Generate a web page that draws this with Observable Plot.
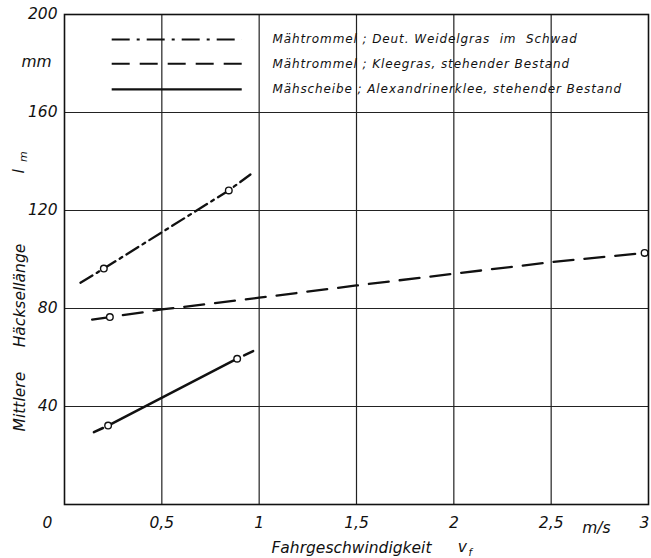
<!DOCTYPE html>
<html><head><meta charset="utf-8">
<script src="https://cdn.jsdelivr.net/npm/d3@7"></script>
<script src="https://cdn.jsdelivr.net/npm/@observablehq/plot@0.6"></script>
<style>body{margin:0;background:#fff}</style>
</head><body><div id="chart"></div>
<script>
// ---- data ----
const xTicks = [0.5, 1, 1.5, 2, 2.5, 3];
const xTickLabels = ["0,5", "1", "1,5", "2", "2,5", "3"];
const yTicks = [40, 80, 120, 160, 200];
const yTickLabels = ["40", "80", "120", "160", "200"];

const seriesNames = [
  "Mähtrommel ; Deut. Weidelgras  im  Schwad",
  "Mähtrommel ; Kleegras, stehender Bestand",
  "Mähscheibe ; Alexandrinerklee, stehender Bestand"
];

const weidelX = [0.082, 0.202, 0.844, 0.955];
const weidelY = [90.5, 96.3, 128.2, 134.7];
const weidelPtX = [0.202, 0.844];
const weidelPtY = [96.3, 128.2];

const kleeX = [0.142, 0.233, 0.5, 1, 1.5, 2, 2.5, 2.98];
const kleeY = [75.5, 76.5, 79.6, 84.4, 89.4, 94.2, 98.9, 102.7];
const kleePtX = [0.233, 2.98];
const kleePtY = [76.5, 102.7];

const alexX = [0.151, 0.224, 0.887, 0.969];
const alexY = [29.5, 32.2, 59.5, 62.6];
const alexPtX = [0.224, 0.887];
const alexPtY = [32.2, 59.5];

// ---- layout (annotation positions in data units) ----
const legendX1 = 0.245, legendX2 = 0.913, legendTextX = 1.068;
const legendY = [189.8, 179.9, 169.4];
const dashes = ["14,5,3,5", "20,11", null];
const legendDashes = ["18,7,3,7", "18,10", null];

const FONT = "'DejaVu Sans', sans-serif";
const pts = (xs, ys) => xs.map((x, i) => ({x, y: ys[i]}));

const weidel = pts(weidelX, weidelY);
const klee = pts(kleeX, kleeY);
const alex = pts(alexX, alexY);
const alexMain = alex.slice(1, 3);
const alexStart = alex.slice(0, 2);
const alexEnd = [alex[3], alex[2]];
const circles = [...pts(weidelPtX, weidelPtY), ...pts(kleePtX, kleePtY), ...pts(alexPtX, alexPtY)];

const txt = {fontFamily: FONT, fontStyle: "italic", fill: "#111"};
const nLast = xTicks.length - 1;

const chart = Plot.plot({
  width: 651, height: 558,
  marginLeft: 64, marginRight: 3, marginTop: 14, marginBottom: 54,
  x: {domain: [0, 3], axis: null},
  y: {domain: [0, 200], axis: null},
  style: {fontFamily: FONT, background: "#fff"},
  marks: [
    Plot.ruleX(xTicks.slice(0, -1), {y1: 0, y2: 200, stroke: "#222", strokeWidth: 1.2}),
    Plot.ruleY(yTicks.slice(0, -1), {x1: 0, x2: 3, stroke: "#222", strokeWidth: 1.2}),
    Plot.frame({stroke: "#111", strokeWidth: 1.6}),
    // legend
    ...seriesNames.map((s, i) => Plot.ruleY([legendY[i]], {x1: legendX1, x2: legendX2, stroke: "#111", strokeWidth: 2.2, strokeDasharray: legendDashes[i]})),
    Plot.text(seriesNames, {x: legendTextX, y: (d, i) => legendY[i], text: d => d, textAnchor: "start", fontSize: 12, ...txt}),
    // data lines
    Plot.line(weidel, {x: "x", y: "y", stroke: "#111", strokeWidth: 2.3, strokeDasharray: dashes[0]}),
    Plot.line(klee, {x: "x", y: "y", stroke: "#111", strokeWidth: 2.3, strokeDasharray: dashes[1]}),
    Plot.line(alexMain, {x: "x", y: "y", stroke: "#111", strokeWidth: 2.5}),
    Plot.line(alexStart, {x: "x", y: "y", stroke: "#111", strokeWidth: 2.5, strokeDasharray: "10,30"}),
    Plot.line(alexEnd, {x: "x", y: "y", stroke: "#111", strokeWidth: 2.5, strokeDasharray: "10,30"}),
    Plot.dot(circles, {x: "x", y: "y", r: 3.3, fill: "#fff", stroke: "#111", strokeWidth: 1.4}),
    // x tick labels
    Plot.text(xTickLabels.slice(0, nLast), {x: (d, i) => xTicks[i], y: 0, text: d => d, dy: 19, fontSize: 15.5, ...txt}),
    Plot.text(xTickLabels.slice(nLast), {x: xTicks[nLast], y: 0, text: d => d, dy: 19, dx: -4, fontSize: 15.5, ...txt}),
    Plot.text(["0"], {x: 0, y: 0, text: d => d, dx: -17, dy: 19, fontSize: 15.5, ...txt}),
    Plot.text(["m/s"], {x: 2.732, y: 0, text: d => d, dy: 24, fontSize: 15.5, ...txt}),
    // y tick labels
    Plot.text(yTickLabels, {x: 0, y: (d, i) => yTicks[i], text: d => d, dx: -7, textAnchor: "end", fontSize: 15.5, ...txt}),
    Plot.text(["mm"], {x: 0, y: 180.4, text: d => d, dx: -28, fontSize: 15.5, ...txt}),
    // y title
    Plot.text(["Mittlere"], {x: 0, y: 42, text: d => d, dx: -44, rotate: -90, fontSize: 15.5, ...txt}),
    Plot.text(["Häcksellänge"], {x: 0, y: 85.3, text: d => d, dx: -44, rotate: -90, fontSize: 15.5, ...txt}),
    Plot.text(["l"], {x: 0, y: 136, text: d => d, dx: -46, rotate: -90, fontSize: 16, ...txt}),
    Plot.text(["m"], {x: 0, y: 142, text: d => d, dx: -41, rotate: -90, fontSize: 11, ...txt}),
    // x title
    Plot.text(["Fahrgeschwindigkeit"], {x: 1.474, y: 0, text: d => d, dy: 44, fontSize: 15.5, ...txt}),
    Plot.text(["v"], {x: 2.044, y: 0, text: d => d, dy: 43, fontSize: 15.5, ...txt}),
    Plot.text(["f"], {x: 2.085, y: 0, text: d => d, dy: 48, fontSize: 10, ...txt})
  ]
});
// widen legend lettering (technical drawing style)
chart.querySelectorAll("text").forEach(t => {
  if (seriesNames.includes(t.textContent)) t.setAttribute("letter-spacing", "0.9");
});
document.getElementById("chart").appendChild(chart);
</script>
</body></html>
